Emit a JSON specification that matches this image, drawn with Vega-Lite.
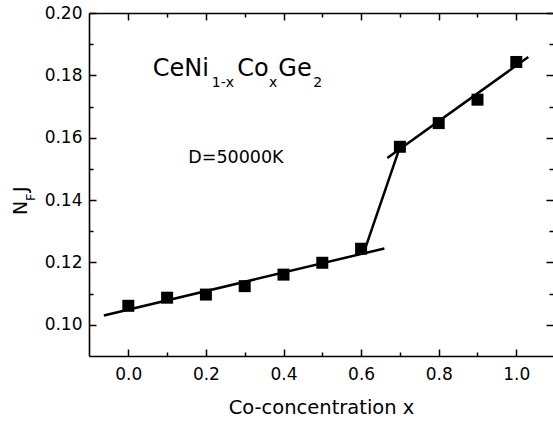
{
  "$schema": "https://vega.github.io/schema/vega-lite/v6.json",
  "width": 464,
  "height": 343,
  "autosize": {"type": "none"},
  "padding": {"left": 89, "top": 13, "right": 0, "bottom": 68},
  "background": "white",
  "config": {
    "view": {"stroke": null},
    "font": "DejaVu Sans",
    "axis": {
      "grid": false,
      "domainColor": "black",
      "tickColor": "black",
      "labelColor": "black",
      "titleColor": "black",
      "domainWidth": 1.6,
      "tickWidth": 1.5,
      "labelFont": "DejaVu Sans",
      "labelFontSize": 17,
      "titleFont": "DejaVu Sans",
      "titleFontSize": 19.5,
      "titleFontWeight": "normal"
    }
  },
  "datasets": {
    "points": [
      {"x": 0.0, "y": 0.1061},
      {"x": 0.1, "y": 0.1087},
      {"x": 0.2, "y": 0.1097},
      {"x": 0.3, "y": 0.1124},
      {"x": 0.4, "y": 0.1161},
      {"x": 0.5, "y": 0.1199},
      {"x": 0.6, "y": 0.1244},
      {"x": 0.7, "y": 0.1571},
      {"x": 0.8, "y": 0.1647},
      {"x": 0.9, "y": 0.1722},
      {"x": 1.0, "y": 0.1843}
    ],
    "fits": [
      {"seg": "low", "x": -0.063, "y": 0.103},
      {"seg": "low", "x": 0.66, "y": 0.1245},
      {"seg": "high", "x": 0.6675, "y": 0.1535},
      {"seg": "high", "x": 1.031, "y": 0.1859},
      {"seg": "jump", "x": 0.612, "y": 0.125},
      {"seg": "jump", "x": 0.7, "y": 0.157}
    ],
    "formulaMain": [
      {"t": "CeNi", "x": 0.0629, "y": 0.1799},
      {"t": "Co", "x": 0.2809, "y": 0.1799},
      {"t": "Ge", "x": 0.3866, "y": 0.1799}
    ],
    "formulaSub": [
      {"t": "1-x", "x": 0.2150, "y": 0.1764},
      {"t": "x", "x": 0.3625, "y": 0.1764},
      {"t": "2", "x": 0.4768, "y": 0.1764}
    ],
    "note": [
      {"t": "D=50000K", "x": 0.1546, "y": 0.1519}
    ],
    "ytitleMain": [
      {"t": "N", "x": -0.2619, "y": 0.1352},
      {"t": "J", "x": -0.2619, "y": 0.1426}
    ],
    "ytitleSub": [
      {"t": "F", "x": -0.2405, "y": 0.1397}
    ]
  },
  "layer": [
    {
      "data": {"name": "fits"},
      "mark": {"type": "line", "color": "black", "strokeWidth": 2.5, "strokeCap": "butt"},
      "encoding": {
        "x": {"field": "x", "type": "quantitative",
          "scale": {"domain": [-0.1013, 1.0946], "nice": false, "zero": false},
          "axis": {"orient": "bottom", "values": [0, 0.2, 0.4, 0.6, 0.8, 1.0], "format": ".1f",
            "tickSize": -7, "labelPadding": 17, "title": "Co-concentration x", "titlePadding": 16}},
        "y": {"field": "y", "type": "quantitative",
          "scale": {"domain": [0.09, 0.2], "nice": false, "zero": false},
          "axis": {"orient": "left", "values": [0.1, 0.12, 0.14, 0.16, 0.18, 0.2], "format": ".2f",
            "tickSize": -7, "labelPadding": 14, "title": null}},
        "detail": {"field": "seg", "type": "nominal"},
        "order": {"field": "x", "type": "quantitative"}
      }
    },
    {
      "data": {"name": "points"},
      "mark": {"type": "point", "shape": "square", "filled": true, "color": "black", "size": 144, "opacity": 1},
      "encoding": {
        "x": {"field": "x", "type": "quantitative",
          "scale": {"domain": [-0.1013, 1.0946], "nice": false, "zero": false},
          "axis": {"orient": "bottom", "values": [0.1, 0.3, 0.5, 0.7, 0.9], "tickSize": -4,
            "labels": false, "domain": false, "title": null}},
        "y": {"field": "y", "type": "quantitative",
          "scale": {"domain": [0.09, 0.2], "nice": false, "zero": false},
          "axis": {"orient": "left", "values": [0.11, 0.13, 0.15, 0.17, 0.19], "tickSize": -4,
            "labels": false, "domain": false, "title": null}}
      }
    },
    {
      "data": {"name": "formulaMain"},
      "mark": {"type": "text", "align": "left", "baseline": "alphabetic", "fontSize": 24, "font": "DejaVu Sans", "color": "black"},
      "encoding": {
        "x": {"field": "x", "type": "quantitative",
          "scale": {"domain": [-0.1013, 1.0946], "nice": false, "zero": false},
          "axis": {"orient": "top", "values": [0, 0.2, 0.4, 0.6, 0.8, 1.0], "tickSize": -7,
            "labels": false, "domain": true, "title": null}},
        "y": {"field": "y", "type": "quantitative",
          "scale": {"domain": [0.09, 0.2], "nice": false, "zero": false},
          "axis": {"orient": "right", "values": [0.1, 0.12, 0.14, 0.16, 0.18, 0.2], "tickSize": -7,
            "labels": false, "domain": false, "title": null}},
        "text": {"field": "t", "type": "nominal"}
      }
    },
    {
      "data": {"name": "formulaSub"},
      "mark": {"type": "text", "align": "left", "baseline": "alphabetic", "fontSize": 14, "font": "DejaVu Sans", "color": "black"},
      "encoding": {
        "x": {"field": "x", "type": "quantitative",
          "scale": {"domain": [-0.1013, 1.0946], "nice": false, "zero": false},
          "axis": {"orient": "top", "values": [0.1, 0.3, 0.5, 0.7, 0.9], "tickSize": -4,
            "labels": false, "domain": false, "title": null}},
        "y": {"field": "y", "type": "quantitative",
          "scale": {"domain": [0.09, 0.2], "nice": false, "zero": false},
          "axis": {"orient": "right", "values": [0.11, 0.13, 0.15, 0.17, 0.19], "tickSize": -4,
            "labels": false, "domain": false, "title": null}},
        "text": {"field": "t", "type": "nominal"}
      }
    },
    {
      "data": {"name": "note"},
      "mark": {"type": "text", "align": "left", "baseline": "alphabetic", "fontSize": 17.5, "font": "DejaVu Sans", "color": "black"},
      "encoding": {
        "x": {"field": "x", "type": "quantitative", "scale": {"domain": [-0.1013, 1.0946], "nice": false, "zero": false}, "axis": null},
        "y": {"field": "y", "type": "quantitative", "scale": {"domain": [0.09, 0.2], "nice": false, "zero": false}, "axis": null},
        "text": {"field": "t", "type": "nominal"}
      }
    },
    {
      "data": {"name": "ytitleMain"},
      "mark": {"type": "text", "align": "left", "baseline": "alphabetic", "angle": 270, "fontSize": 19, "font": "DejaVu Sans", "color": "black"},
      "encoding": {
        "x": {"field": "x", "type": "quantitative", "scale": {"domain": [-0.1013, 1.0946], "nice": false, "zero": false}, "axis": null},
        "y": {"field": "y", "type": "quantitative", "scale": {"domain": [0.09, 0.2], "nice": false, "zero": false}, "axis": null},
        "text": {"field": "t", "type": "nominal"}
      }
    },
    {
      "data": {"name": "ytitleSub"},
      "mark": {"type": "text", "align": "left", "baseline": "alphabetic", "angle": 270, "fontSize": 13, "font": "DejaVu Sans", "color": "black"},
      "encoding": {
        "x": {"field": "x", "type": "quantitative", "scale": {"domain": [-0.1013, 1.0946], "nice": false, "zero": false}, "axis": null},
        "y": {"field": "y", "type": "quantitative", "scale": {"domain": [0.09, 0.2], "nice": false, "zero": false}, "axis": null},
        "text": {"field": "t", "type": "nominal"}
      }
    }
  ],
  "resolve": {"axis": {"x": "independent", "y": "independent"}}
}
